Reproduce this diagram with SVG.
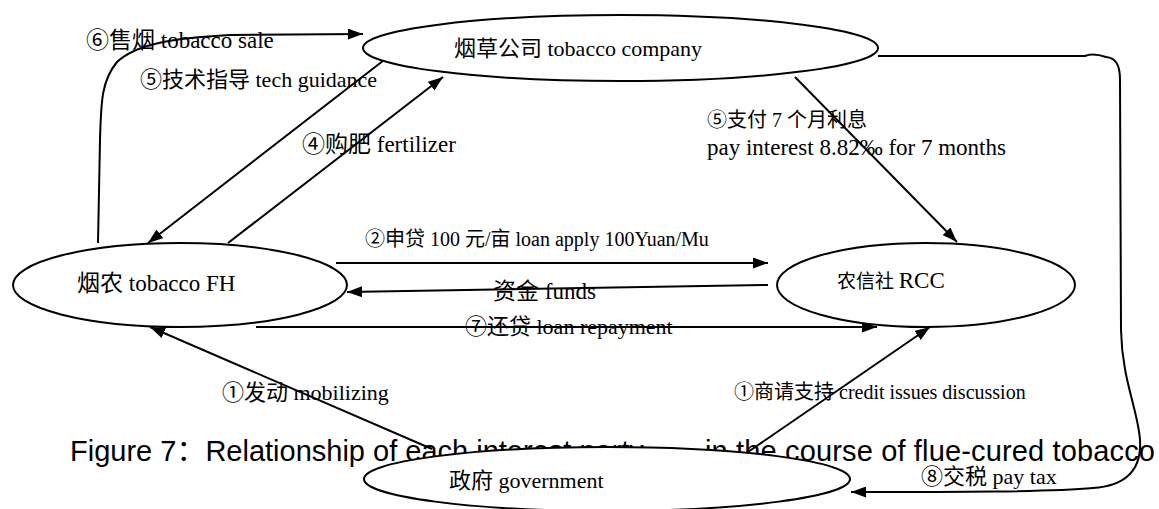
<svg xmlns="http://www.w3.org/2000/svg" width="1159" height="509" viewBox="0 0 1159 509">
<style>
.t{font-family:"Liberation Serif","Noto Sans CJK SC",serif;fill:#000}
.cap{font-family:"Liberation Sans","Noto Sans CJK SC",sans-serif;fill:#000}
.n{fill:#fff;stroke:#000;stroke-width:2}
.c{fill:none;stroke:#000;stroke-width:2}
</style>
<defs>
<marker id="ah" viewBox="0 0 15 11" refX="15" refY="5.5" markerWidth="15" markerHeight="11" markerUnits="userSpaceOnUse" orient="auto">
<path d="M0,0 L15,5.5 L0,11 Z" fill="#000"/>
</marker>
</defs>
<rect width="1159" height="509" fill="#fff"/>
<text class="cap" y="461" font-size="29"><tspan x="70">Figure 7：Relationship of each interest party</tspan><tspan x="705" textLength="450" lengthAdjust="spacing">in the course of flue-cured tobacco</tspan></text>
<g id="connectors">
<path class="c" d="M98,243 L100,140 C101,100 102,80 117,62 C135,45 170,38 230,35 L363,34" marker-end="url(#ah)"/>
<line class="c" x1="388" y1="57" x2="148" y2="243" marker-end="url(#ah)"/>
<line class="c" x1="228" y1="243" x2="443" y2="77" marker-end="url(#ah)"/>
<line class="c" x1="795" y1="77" x2="957" y2="242" marker-end="url(#ah)"/>
<line class="c" x1="336" y1="263" x2="768" y2="263" marker-end="url(#ah)"/>
<line class="c" x1="768" y1="285" x2="347" y2="292" marker-end="url(#ah)"/>
<line class="c" x1="256" y1="327" x2="877" y2="327" marker-end="url(#ah)"/>
<line class="c" x1="432" y1="449" x2="150" y2="327" marker-end="url(#ah)"/>
<line class="c" x1="748" y1="452" x2="930" y2="327" marker-end="url(#ah)"/>
<path class="c" d="M878,56 L1085,56 C1092,53 1100,55 1106,57 C1116,58 1120,65 1120,80 L1121,330 C1122,380 1138,410 1140,440 C1142,473 1122,486 1093,488 C1050,492 950,492 851,492" marker-end="url(#ah)"/>
</g>
<g id="company">
<ellipse class="n" cx="620.5" cy="48" rx="257.5" ry="33"/>
<text class="t" x="454" y="56" font-size="22">烟草公司 tobacco company</text>
</g>
<g id="farmer">
<ellipse class="n" cx="180" cy="285" rx="167" ry="42"/>
<text class="t" x="77" y="291" font-size="23">烟农 tobacco FH</text>
</g>
<g id="rcc">
<ellipse class="n" cx="926" cy="285" rx="149" ry="42"/>
<text class="t" x="837" y="288"><tspan font-size="19">农信社 </tspan><tspan font-size="23">RCC</tspan></text>
</g>
<g id="government">
<ellipse class="n" cx="607" cy="479" rx="243" ry="32"/>
<text class="t" x="449" y="488" font-size="22">政府 government</text>
</g>
<g id="labels">
<text class="t" x="86" y="48" font-size="23">⑥售烟 tobacco sale</text>
<text class="t" x="140" y="87" font-size="22">⑤技术指导 tech guidance</text>
<text class="t" x="302" y="152" font-size="23">④购肥 fertilizer</text>
<text class="t" x="707" y="127" font-size="20">⑤支付 7 个月利息</text>
<text class="t" x="707" y="155" font-size="23">pay interest 8.82‰ for 7 months</text>
<text class="t" x="365" y="246" font-size="20">②申贷 100 元/亩 loan apply 100Yuan/Mu</text>
<text class="t" x="493" y="299" font-size="23">资金 funds</text>
<text class="t" x="465" y="334" font-size="22">⑦还贷 loan repayment</text>
<text class="t" x="222" y="400" font-size="22">①发动 mobilizing</text>
<text class="t" x="734" y="399" font-size="20">①商请支持 credit issues discussion</text>
<text class="t" x="921" y="484" font-size="22">⑧交税 pay tax</text>
</g>
</svg>
